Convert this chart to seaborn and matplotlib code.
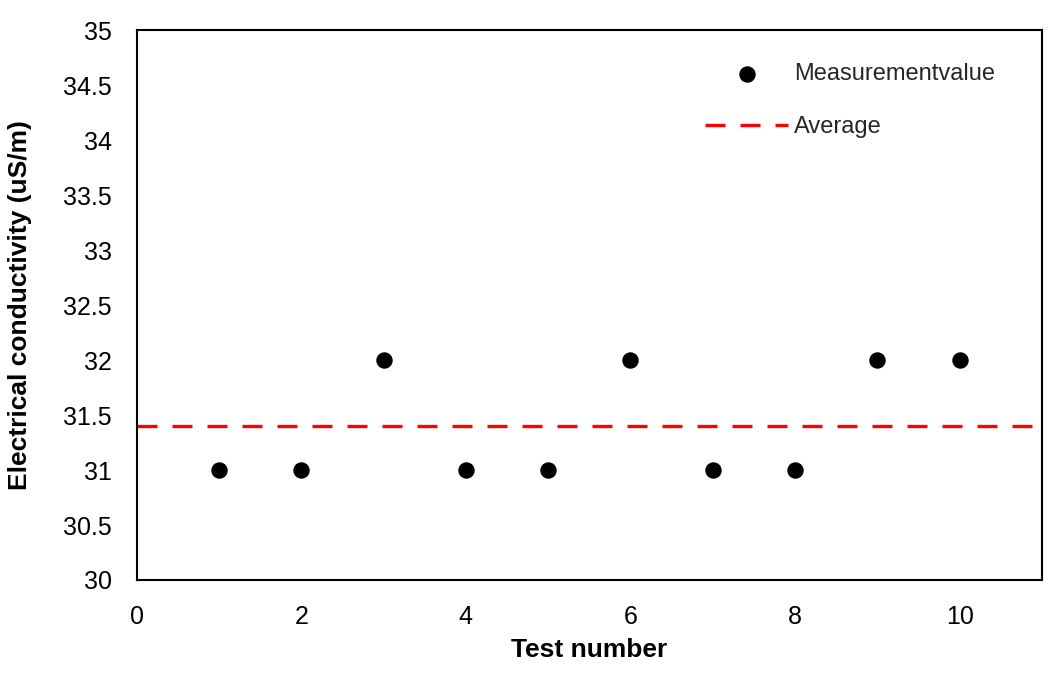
import numpy as np
import matplotlib
matplotlib.use("Agg")
import matplotlib.pyplot as plt
import matplotlib.font_manager as fm
import seaborn as sns

# data
test_number = [1, 2, 3, 4, 5, 6, 7, 8, 9, 10]
conductivity = [31, 31, 32, 31, 31, 32, 31, 31, 32, 32]
average = float(np.mean(conductivity))  # 31.4

sns.set_theme(style="white")
names = {f.name for f in fm.fontManager.ttflist}
fam = ["Liberation Sans Narrow"] if "Liberation Sans Narrow" in names else []
plt.rcParams["font.family"] = fam + ["Liberation Sans", "DejaVu Sans"]

fig = plt.figure(figsize=(10.59, 6.88), dpi=100)
ax = fig.add_axes([0.129, 0.157, 0.855, 0.799])

sns.scatterplot(x=test_number, y=conductivity, ax=ax, color="black", s=140,
                edgecolor="black", linewidth=0, label="Measurementvalue", zorder=3)
ax.axhline(average, color="#ff0000", linewidth=2.4, dashes=(6, 4.5),
           label="Average", zorder=2)

ax.set_xlim(0, 11)
ax.set_ylim(30, 35)
ax.set_xticks([0, 2, 4, 6, 8, 10])
yt = np.arange(30, 35.01, 0.5)
ax.set_yticks(yt)
ax.set_yticklabels([f"{v:g}" for v in yt])
ax.tick_params(axis="both", length=0, labelsize=18, colors="black")
ax.tick_params(axis="x", pad=18)
ax.tick_params(axis="y", pad=18)

ax.set_xlabel("Test number", fontsize=19, fontweight="bold", color="black")
ax.set_ylabel("Electrical conductivity (uS/m)", fontsize=19, fontweight="bold",
              color="black")
ax.xaxis.set_label_coords(0.5, -0.105)
ax.yaxis.set_label_coords(-0.115, 0.5)

for sp in ax.spines.values():
    sp.set_visible(True)
    sp.set_color("black")
    sp.set_linewidth(1.5)

ax.legend(loc="upper left", bbox_to_anchor=(0.628, 0.941), frameon=False,
          fontsize=17, handlelength=3.5, handletextpad=0.25, labelspacing=1.32,
          borderpad=0, borderaxespad=0)

fig.savefig("out.png", dpi=100)
